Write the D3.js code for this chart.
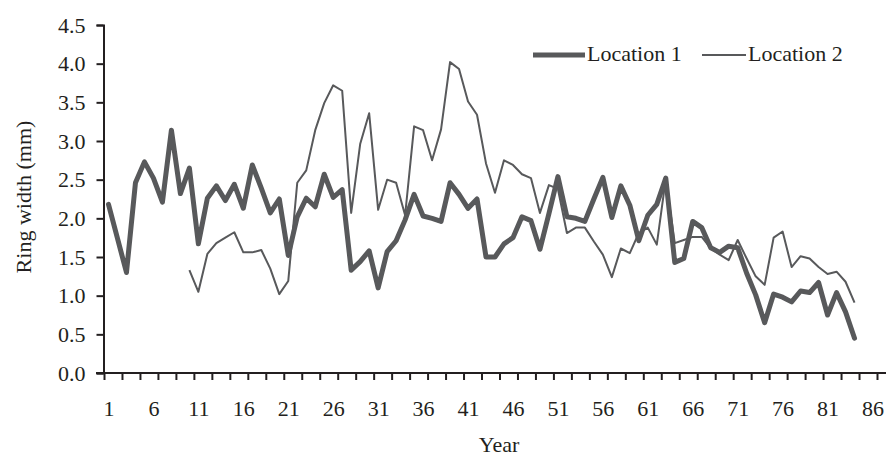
<!DOCTYPE html>
<html>
<head>
<meta charset="utf-8">
<script src="https://cdn.jsdelivr.net/npm/d3@7"></script>
<style>
  body { margin: 0; background: #fff; }
  text { font-family: "Liberation Serif", "DejaVu Serif", serif; fill: #231f20; }
</style>
</head>
<body>
<script>
// ring width per year
var years = d3.range(1, 85);
var location1 = [2.18, 1.74, 1.30, 2.46, 2.73, 2.52, 2.21, 3.14, 2.32, 2.65,
  1.67, 2.26, 2.42, 2.23, 2.44, 2.13, 2.69, 2.39, 2.07, 2.25,
  1.52, 2.02, 2.26, 2.15, 2.57, 2.27, 2.37, 1.33, 1.44, 1.58,
  1.10, 1.57, 1.71, 1.98, 2.31, 2.03, 2.00, 1.96, 2.46, 2.31,
  2.13, 2.25, 1.50, 1.50, 1.67, 1.75, 2.02, 1.97, 1.60, 2.06,
  2.54, 2.02, 2.00, 1.96, 2.25, 2.53, 2.01, 2.42, 2.17, 1.71,
  2.04, 2.18, 2.52, 1.43, 1.48, 1.96, 1.88, 1.62, 1.56, 1.64,
  1.62, 1.29, 1.01, 0.65, 1.02, 0.98, 0.92, 1.06, 1.04, 1.17,
  0.75, 1.04, 0.79, 0.45];
var location2 = [null, null, null, null, null, null, null, null, null, 1.33,
  1.05, 1.54, 1.68, 1.75, 1.82, 1.56, 1.56, 1.59, 1.35, 1.02,
  1.19, 2.46, 2.62, 3.14, 3.49, 3.72, 3.65, 2.07, 2.96, 3.36,
  2.11, 2.50, 2.46, 2.04, 3.19, 3.14, 2.75, 3.15, 4.02, 3.93,
  3.51, 3.34, 2.71, 2.33, 2.75, 2.69, 2.57, 2.52, 2.07, 2.43,
  2.38, 1.81, 1.88, 1.88, 1.70, 1.53, 1.24, 1.61, 1.55, 1.81,
  1.88, 1.66, 2.51, 1.68, 1.72, 1.76, 1.76, 1.61, 1.53, 1.46,
  1.72, 1.48, 1.25, 1.14, 1.75, 1.83, 1.37, 1.51, 1.48, 1.37,
  1.28, 1.31, 1.18, 0.91];
var xLabels = d3.range(1, 87, 5);
var yTicks = [0, 0.5, 1, 1.5, 2, 2.5, 3, 3.5, 4, 4.5];

var w = 891, h = 459;
var lineColor = "#58595b";
var fontSize = "22px";

var svg = d3.select("body").append("svg")
  .attr("width", w)
  .attr("height", h);

// categories 1..86, each one a slot; ticks sit on every other slot edge
var x = d3.scaleLinear().domain([0.5, 86.5]).range([104, 877]);
var y = d3.scaleLinear().domain([0, 4.5]).range([373, 25]);

// y axis
var yAxis = svg.append("g")
  .attr("transform", "translate(103.5,0)")
  .call(d3.axisLeft(y).tickValues(yTicks).tickSize(7).tickPadding(11).tickFormat(d3.format(".1f")));
yAxis.select(".domain").attr("stroke", "#231f20").attr("stroke-width", 2);
yAxis.selectAll(".tick line").attr("stroke", "#231f20").attr("stroke-width", 2);
yAxis.selectAll("text").style("font-size", fontSize).attr("fill", "#231f20");
yAxis.selectAll(".tick text").attr("dy", "0.33em");

// x axis tick marks
var edges = d3.range(0.5, 87, 2);
var xTicks = svg.append("g")
  .attr("transform", "translate(0,373)")
  .call(d3.axisBottom(x).tickValues(edges).tickSize(7).tickFormat(""));
xTicks.select(".domain").remove();
xTicks.selectAll(".tick line").attr("stroke", "#231f20").attr("stroke-width", 2);

svg.append("line")
  .attr("x1", x.range()[0] - 8).attr("x2", x.range()[1] + 9)
  .attr("y1", 373).attr("y2", 373)
  .attr("stroke", "#231f20").attr("stroke-width", 2);

// x labels
var xLab = svg.append("g")
  .attr("transform", "translate(0,373)")
  .call(d3.axisBottom(x).tickValues(xLabels).tickSize(0).tickPadding(27));
xLab.select(".domain").remove();
xLab.selectAll("text").style("font-size", fontSize).attr("fill", "#231f20");

// axis titles
svg.append("text")
  .attr("x", 499).attr("y", 452)
  .attr("text-anchor", "middle")
  .style("font-size", fontSize)
  .text("Year");

svg.append("text")
  .attr("transform", "translate(31,197) rotate(-90)")
  .attr("text-anchor", "middle")
  .style("font-size", fontSize)
  .text("Ring width (mm)");

// lines
var line = d3.line()
  .defined(function(d){ return d != null; })
  .x(function(d, i){ return x(years[i]); })
  .y(function(d){ return y(d); });

svg.append("path")
  .datum(location2)
  .attr("d", line)
  .attr("fill", "none")
  .attr("stroke", lineColor)
  .attr("stroke-width", 2)
  .attr("stroke-linejoin", "round");

svg.append("path")
  .datum(location1)
  .attr("d", line)
  .attr("fill", "none")
  .attr("stroke", lineColor)
  .attr("stroke-width", 5)
  .attr("stroke-linejoin", "round")
  .attr("stroke-linecap", "round");

// legend
var legend = [
  {name: "Location 1", width: 5, x1: 533, x2: 585, tx: 587},
  {name: "Location 2", width: 2, x1: 702, x2: 746, tx: 748}
];
var lg = svg.selectAll(".legend").data(legend).enter().append("g").attr("class", "legend");
lg.append("line")
  .attr("x1", function(d){ return d.x1; })
  .attr("x2", function(d){ return d.x2; })
  .attr("y1", 55).attr("y2", 55)
  .attr("stroke", lineColor)
  .attr("stroke-width", function(d){ return d.width; });
lg.append("text")
  .attr("x", function(d){ return d.tx; })
  .attr("y", 61)
  .style("font-size", fontSize)
  .text(function(d){ return d.name; });
</script>
</body>
</html>
